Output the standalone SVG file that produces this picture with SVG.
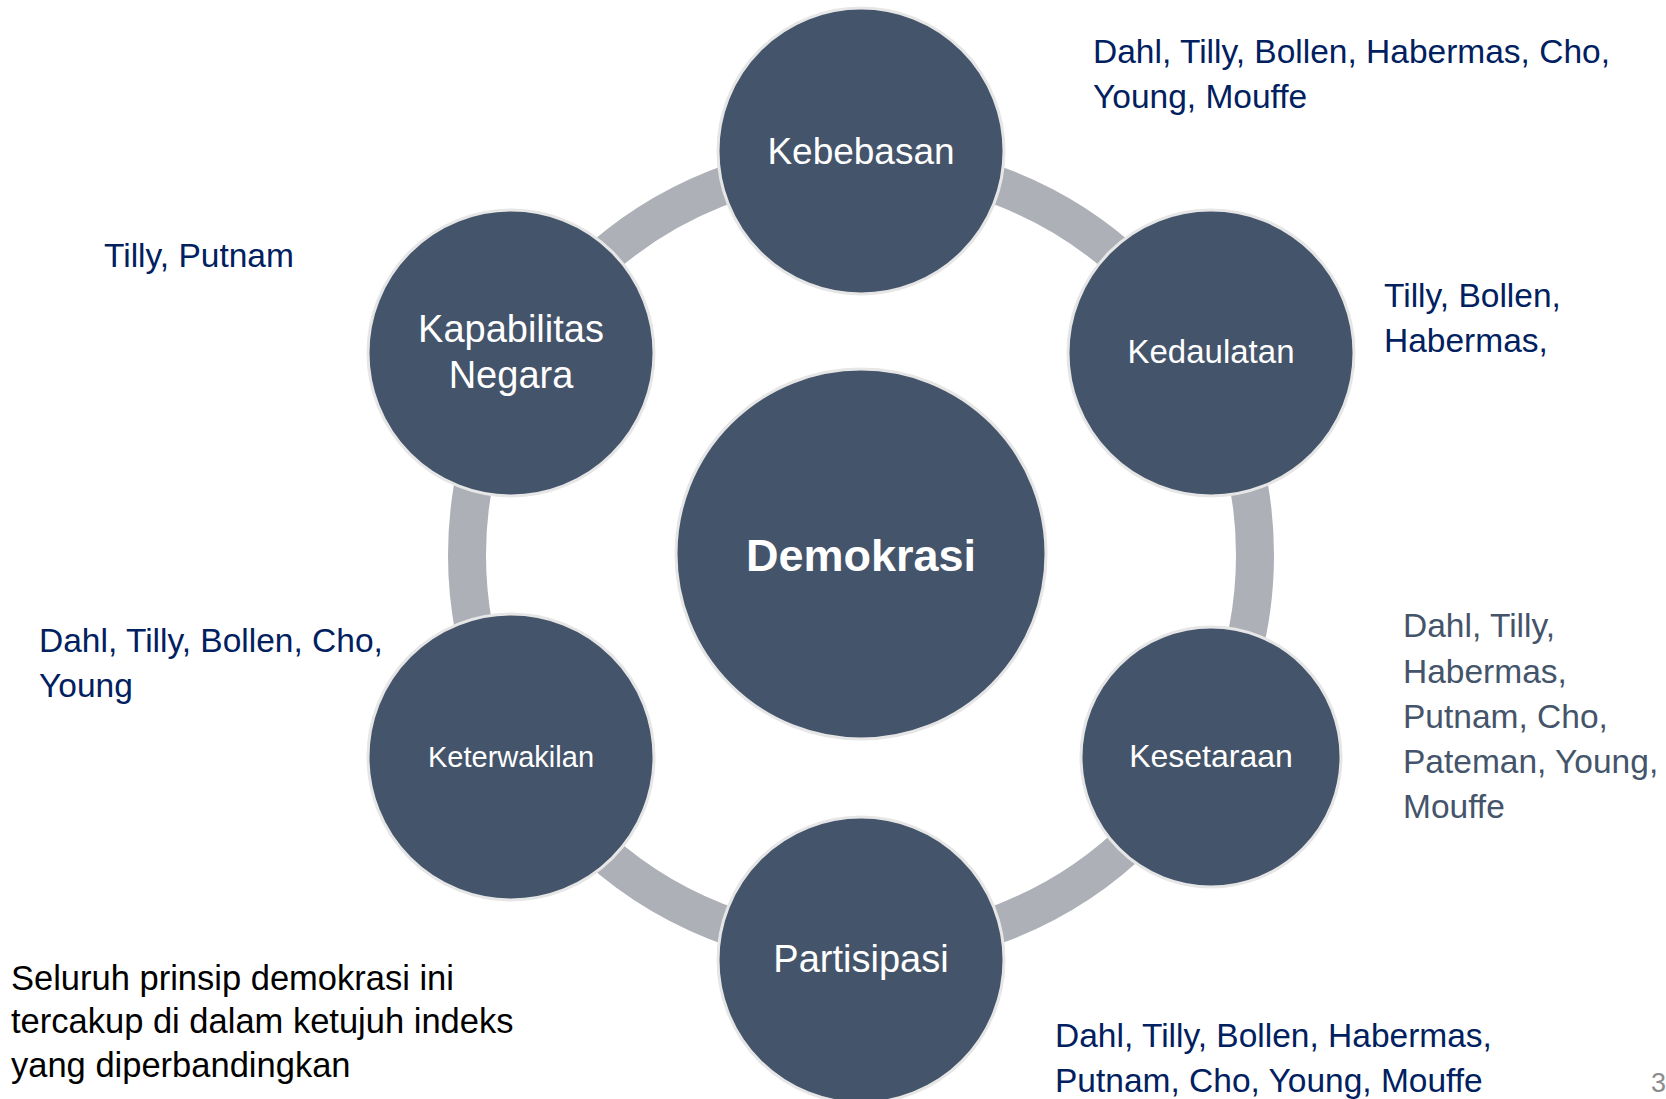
<svg xmlns="http://www.w3.org/2000/svg" width="1666" height="1099" viewBox="0 0 1666 1099">
  <style>
    .node { fill: #44546A; stroke: #E6E6E6; stroke-width: 3; }
    .nlabel { font-family: "Liberation Sans", Arial, sans-serif; fill: #FFFFFF; text-anchor: middle; }
    .ref { font-family: "Liberation Sans", Arial, sans-serif; font-size: 33.5px; fill: #002060; }
    .ref2 { font-family: "Liberation Sans", Arial, sans-serif; font-size: 33.5px; fill: #44546A; }
    .note { font-family: "Liberation Sans", Arial, sans-serif; font-size: 34.5px; fill: #000000; }
    .ring { fill: none; stroke: #AEB0B8; stroke-width: 38; }
  </style>
  <rect width="1666" height="1099" fill="#FFFFFF"/>

  <g id="connectors">
    <circle class="ring" cx="861" cy="555" r="394"/>
  </g>

  <g id="node-demokrasi">
    <circle class="node" cx="861" cy="554" r="185"/>
    <text class="nlabel" x="861" y="571" font-size="45" font-weight="bold">Demokrasi</text>
  </g>
  <g id="node-kebebasan">
    <circle class="node" cx="861" cy="151" r="143"/>
    <text class="nlabel" x="861" y="164" font-size="37">Kebebasan</text>
  </g>
  <g id="node-kedaulatan">
    <circle class="node" cx="1211" cy="353" r="143"/>
    <text class="nlabel" x="1211" y="363" font-size="33">Kedaulatan</text>
  </g>
  <g id="node-kesetaraan">
    <circle class="node" cx="1211" cy="757" r="130"/>
    <text class="nlabel" x="1211" y="767" font-size="32">Kesetaraan</text>
  </g>
  <g id="node-partisipasi">
    <circle class="node" cx="861" cy="960" r="143"/>
    <text class="nlabel" x="861" y="972" font-size="38">Partisipasi</text>
  </g>
  <g id="node-keterwakilan">
    <circle class="node" cx="511" cy="757" r="143"/>
    <text class="nlabel" x="511" y="767" font-size="29">Keterwakilan</text>
  </g>
  <g id="node-kapabilitas">
    <circle class="node" cx="511" cy="353" r="143"/>
    <text class="nlabel" x="511" y="342" font-size="38">Kapabilitas</text>
    <text class="nlabel" x="511" y="388" font-size="38">Negara</text>
  </g>

  <g id="labels">
    <text class="ref" x="1093" y="63">Dahl, Tilly, Bollen, Habermas, Cho,</text>
    <text class="ref" x="1093" y="108">Young, Mouffe</text>

    <text class="ref" x="1384" y="307">Tilly, Bollen,</text>
    <text class="ref" x="1384" y="352">Habermas,</text>

    <text class="ref2" x="1403" y="637">Dahl, Tilly,</text>
    <text class="ref2" x="1403" y="683">Habermas,</text>
    <text class="ref2" x="1403" y="728">Putnam, Cho,</text>
    <text class="ref2" x="1403" y="773">Pateman, Young,</text>
    <text class="ref2" x="1403" y="818">Mouffe</text>

    <text class="ref" x="1055" y="1047">Dahl, Tilly, Bollen, Habermas,</text>
    <text class="ref" x="1055" y="1092">Putnam, Cho, Young, Mouffe</text>

    <text class="ref" x="104" y="267">Tilly, Putnam</text>

    <text class="ref" x="39" y="652">Dahl, Tilly, Bollen, Cho,</text>
    <text class="ref" x="39" y="697">Young</text>

    <text class="note" x="11" y="990">Seluruh prinsip demokrasi ini</text>
    <text class="note" x="11" y="1033">tercakup di dalam ketujuh indeks</text>
    <text class="note" x="11" y="1077">yang diperbandingkan</text>

    <text x="1651" y="1092" font-family="Liberation Sans, Arial, sans-serif" font-size="27" fill="#8C8C8C">3</text>
  </g>
</svg>
